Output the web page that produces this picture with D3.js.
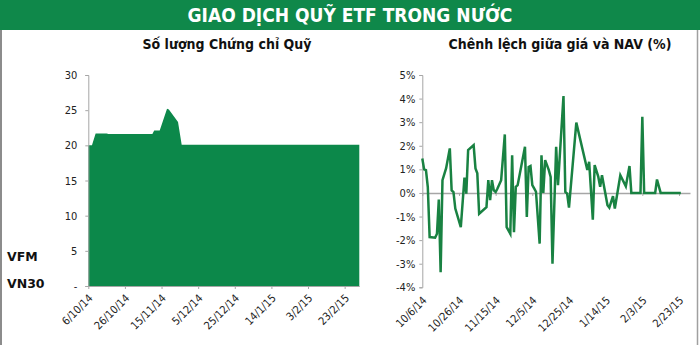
<!DOCTYPE html>
<html>
<head>
<meta charset="utf-8">
<title>Giao dich quy ETF</title>
<script src="https://d3js.org/d3.v7.min.js"></script>
<style>
  body { margin: 0; background: #fff; }
  .axis path, .axis line { stroke: #a6a6a6; }
  .axis text { font: 11px "DejaVu Sans Condensed", "DejaVu Sans", sans-serif; fill: #222; }
</style>
</head>
<body>
<svg id="chart" width="700" height="345"></svg>
<script>
// so luong chung chi quy (left, area)
var unitDates  = ["2014-10-06","2014-10-08","2014-10-10","2014-10-16","2014-10-17","2014-11-10",
                  "2014-11-11","2014-11-14","2014-11-18","2014-11-19","2014-11-24","2014-11-26","2015-03-03"];
var unitValues = [20, 20, 21.7, 21.7, 21.6, 21.6, 22.1, 22.1, 25.2, 25.1, 23.3, 20.1, 20.1];

// chenh lech gia va NAV, % (right, line)
var navDates = ["2014-10-06","2014-10-07","2014-10-08","2014-10-09","2014-10-10","2014-10-13","2014-10-14",
  "2014-10-15","2014-10-16","2014-10-17","2014-10-19","2014-10-21","2014-10-22","2014-10-23","2014-10-24",
  "2014-10-27","2014-10-29","2014-10-30","2014-10-31","2014-11-03","2014-11-04","2014-11-05","2014-11-06",
  "2014-11-10","2014-11-11","2014-11-12","2014-11-13","2014-11-14","2014-11-15","2014-11-16","2014-11-18",
  "2014-11-20","2014-11-21","2014-11-23","2014-11-24","2014-11-25","2014-11-26","2014-11-27","2014-12-01",
  "2014-12-02","2014-12-03","2014-12-04","2014-12-05","2014-12-06","2014-12-07","2014-12-09","2014-12-10",
  "2014-12-11","2014-12-12","2014-12-14","2014-12-15","2014-12-16","2014-12-18","2014-12-19","2014-12-22",
  "2014-12-23","2014-12-24","2014-12-25","2014-12-29","2015-01-04","2015-01-05","2015-01-07","2015-01-08",
  "2015-01-10","2015-01-11","2015-01-12","2015-01-15","2015-01-16","2015-01-18","2015-01-19","2015-01-22",
  "2015-01-25","2015-01-27","2015-01-28","2015-02-02","2015-02-03","2015-02-04","2015-02-10","2015-02-11",
  "2015-02-13","2015-02-24"];
var navValues = [1.46, 1.0, 0.97, 0.25, -1.87, -1.9, -1.73,
  -0.28, -3.36, 0.54, 1.05, 1.89, 0.11, 0.04, -0.66,
  -1.45, 0.65, -0.03, 1.82, 2.03, 1.04, 0.83, -0.88,
  -0.6, 0.54, -0.31, 0.54, 0.11, 0.04, 0.19, 0.54,
  2.48, -1.45, -1.73, 1.6, -1.66, 0.26, 0.33, 1.96,
  -1.02, 1.1, 1.14, 0.33, 0.19, 0.05, -2.15, 1.6,
  0.0, 1.39, 0.97, 0.68, -3.0, 1.96, 0.33, 4.11,
  0.04, -0.03, -0.62, 2.98, 0.97, 1.32, -1.13, 1.18,
  0.68, 0.26, 0.75, -0.52, -0.62, -0.14, -0.66, 0.75,
  0.28, 1.14, 0.0, 0.0, 3.23, 0.0, 0.0, 0.57,
  0.0, 0.0];

var tickDates   = ["2014-10-06","2014-10-26","2014-11-15","2014-12-05","2014-12-25","2015-01-14","2015-02-03","2015-02-23"];
var leftLabels  = ["6/10/14","26/10/14","15/11/14","5/12/14","25/12/14","14/1/15","3/2/15","23/2/15"];
var rightLabels = ["10/6/14","10/26/14","11/15/14","12/5/14","12/25/14","1/14/15","2/3/15","2/23/15"];
var unitTicks = [0, 5, 10, 15, 20, 25, 30];
var navTicks  = [-4, -3, -2, -1, 0, 1, 2, 3, 4, 5];

var parse = d3.timeParse("%Y-%m-%d");
var units = unitDates.map(function(d, i) { return {date: parse(d), value: unitValues[i]}; });
var navs  = navDates.map(function(d, i) { return {date: parse(d), value: navValues[i]}; });
var ticks = tickDates.map(parse);

var svg = d3.select("#chart");
var green = "#0f884a";

// header bar and frame
svg.append("rect").attr("x", 0).attr("y", 0).attr("width", 700).attr("height", 30).attr("fill", green);
svg.append("text").attr("x", 350).attr("y", 22).attr("text-anchor", "middle")
   .style("font", "bold 19px 'DejaVu Sans Condensed', 'DejaVu Sans', sans-serif")
   .attr("fill", "#fff").text("GIAO DỊCH QUỸ ETF TRONG NƯỚC");
svg.append("line").attr("x1", 1).attr("x2", 1).attr("y1", 30).attr("y2", 345).attr("stroke", "#8c8c8c").attr("stroke-width", 2);
svg.append("line").attr("x1", 697.5).attr("x2", 697.5).attr("y1", 30).attr("y2", 345).attr("stroke", "#a0a0a0").attr("stroke-width", 1.5);

var titleFont = "bold 14px 'DejaVu Sans Condensed', 'DejaVu Sans', sans-serif";
svg.append("text").attr("x", 227).attr("y", 49).attr("text-anchor", "middle")
   .style("font", titleFont).attr("fill", "#111").text("Số lượng Chứng chỉ Quỹ");
svg.append("text").attr("x", 560).attr("y", 49).attr("text-anchor", "middle")
   .style("font", titleFont).attr("fill", "#111").text("Chênh lệch giữa giá và NAV (%)");

// left chart
var x0 = d3.scaleTime().domain([parse("2014-10-06"), parse("2015-03-03")]).range([88.3, 359.3]);
var y0 = d3.scaleLinear().domain([0, 30]).range([286, 75]);

svg.append("path").datum(units)
   .attr("fill", "#0c884a")
   .attr("d", d3.area().x(function(d) { return x0(d.date); }).y0(y0(0)).y1(function(d) { return y0(d.value); }));

svg.append("g").attr("class", "axis").attr("transform", "translate(88.3,0)")
   .call(d3.axisLeft(y0).tickValues(unitTicks).tickSize(3).tickPadding(8)
         .tickFormat(function(d) { return d === 0 ? "-" : d; }));

var lx = svg.append("g").attr("class", "axis").attr("transform", "translate(0,286)")
   .call(d3.axisBottom(x0).tickValues(ticks).tickSize(3).tickSizeOuter(0)
         .tickFormat(function(d, i) { return leftLabels[i]; }));
lx.selectAll("text").attr("text-anchor", "end").attr("x", 0).attr("y", 0).attr("dy", "0.35em")
   .attr("transform", "translate(2,10) rotate(-45)");

svg.append("text").attr("x", 7).attr("y", 261).style("font", "bold 12.5px 'DejaVu Sans', sans-serif").attr("fill", "#111").text("VFM");
svg.append("text").attr("x", 7).attr("y", 287.5).style("font", "bold 12.5px 'DejaVu Sans', sans-serif").attr("fill", "#111").text("VN30");

// right chart
var x1 = d3.scaleTime().domain([parse("2014-10-06"), parse("2015-03-01")]).range([422.3, 690]);
var y1 = d3.scaleLinear().domain([-4, 5]).range([287.3, 75]);

svg.append("g").attr("class", "axis").attr("transform", "translate(422.3,0)")
   .call(d3.axisLeft(y1).tickValues(navTicks).tickSize(3).tickPadding(4)
         .tickFormat(function(d) { return d + "%"; }));

svg.append("g").attr("class", "axis").attr("transform", "translate(0," + y1(0) + ")")
   .call(d3.axisBottom(x1).tickValues(ticks).tickSize(3).tickSizeOuter(0).tickFormat(""))
   .select(".domain").attr("stroke-width", 1.5);

var rx = svg.append("g").attr("class", "axis").attr("transform", "translate(0,287.3)")
   .call(d3.axisBottom(x1).tickValues(ticks).tickSize(0)
         .tickFormat(function(d, i) { return rightLabels[i]; }));
rx.select(".domain").remove();
rx.selectAll("text").attr("text-anchor", "end").attr("x", 0).attr("y", 0).attr("dy", "0.35em")
   .attr("transform", "translate(2,11) rotate(-45)");

svg.append("path").datum(navs)
   .attr("fill", "none").attr("stroke", "#198242").attr("stroke-width", 2.5)
   .attr("d", d3.line().x(function(d) { return x1(d.date); }).y(function(d) { return y1(d.value); }));
</script>
</body>
</html>
